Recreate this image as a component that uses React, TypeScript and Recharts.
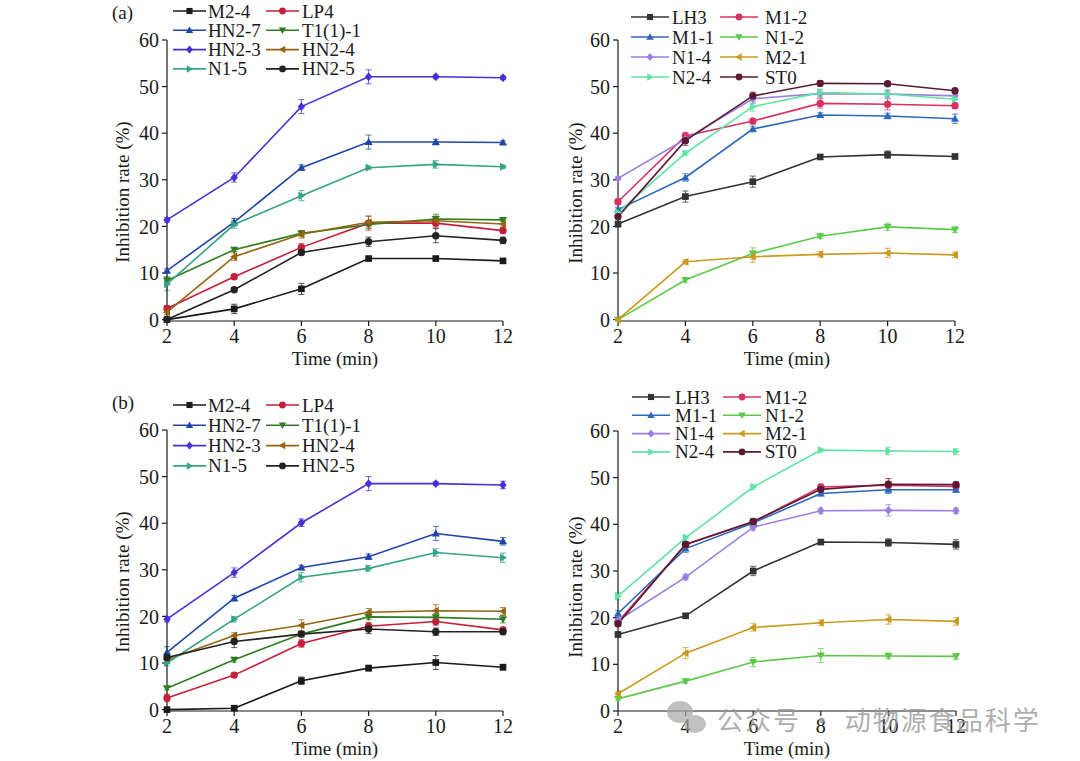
import React from "react";
import { LineChart, Line, XAxis, YAxis, ErrorBar } from "recharts";

// ── Data ────────────────────────────────────────────────────────────────────
const TIME = [2, 4, 6, 8, 10, 12];
const X_TICKS = [2, 4, 6, 8, 10, 12];
const Y_TICKS = [0, 10, 20, 30, 40, 50, 60];

// (a) left — means
const A_M24 = [0, 2.3, 6.6, 13.1, 13.1, 12.6];
const A_LP4 = [2.4, 9.2, 15.5, 20.7, 20.7, 19.1];
const A_HN27 = [10.5, 20.9, 32.6, 38.1, 38.1, 38.0];
const A_T111 = [8.4, 15.0, 18.5, 20.4, 21.6, 21.4];
const A_HN23 = [21.4, 30.5, 45.7, 52.1, 52.1, 51.9];
const A_HN24 = [1.6, 13.5, 18.3, 20.9, 21.2, 20.5];
const A_N15 = [7.6, 20.4, 26.6, 32.6, 33.3, 32.8];
const A_HN25 = [0, 6.4, 14.4, 16.7, 18.0, 17.0];
// (a) left — error bars (±)
const A_M24_E = [0.3, 1.0, 1.2, 0.4, 0.4, 0.4];
const A_LP4_E = [0.6, 0.5, 0.8, 1.5, 1.0, 0.6];
const A_HN27_E = [0.4, 0.8, 0.6, 1.5, 0.6, 0.4];
const A_T111_E = [0.8, 0.4, 0.6, 0.8, 1.0, 0.4];
const A_HN23_E = [0.5, 1.0, 1.5, 1.5, 0.4, 0.4];
const A_HN24_E = [0.5, 0.8, 0.8, 1.3, 1.0, 0.6];
const A_N15_E = [1.4, 0.8, 1.1, 0.4, 0.8, 0.4];
const A_HN25_E = [0.3, 0.5, 0.5, 1.0, 1.5, 0.7];

// (a) right — means
const A_LH3 = [20.5, 26.4, 29.6, 34.9, 35.4, 35.0];
const A_M12 = [25.3, 39.4, 42.6, 46.4, 46.2, 45.9];
const A_M11 = [23.6, 30.5, 40.9, 43.9, 43.7, 43.1];
const A_N12 = [0, 8.5, 14.2, 17.9, 19.9, 19.3];
const A_N14 = [30.3, 38.7, 47.4, 48.5, 48.4, 48.0];
const A_M21 = [0, 12.4, 13.5, 14.0, 14.3, 13.9];
const A_N24 = [23.0, 35.7, 45.7, 48.7, 48.4, 47.3];
const A_ST0 = [22.1, 38.4, 48.0, 50.7, 50.6, 49.1];
// (a) right — error bars (±)
const A_LH3_E = [0.6, 1.2, 1.2, 0.5, 0.8, 0.5];
const A_M12_E = [0.6, 0.8, 0.6, 1.0, 1.2, 0.6];
const A_M11_E = [0.5, 0.8, 0.6, 0.5, 0.6, 1.0];
const A_N12_E = [0.3, 0.5, 1.2, 0.5, 0.8, 0.6];
const A_N14_E = [0.4, 0.6, 1.0, 0.8, 0.8, 0.6];
const A_M21_E = [0.3, 0.5, 1.2, 0.6, 1.0, 0.6];
const A_N24_E = [0.6, 0.5, 1.0, 0.8, 1.0, 1.2];
const A_ST0_E = [0.5, 1.0, 0.8, 0.6, 0.5, 0.5];

// (b) left — means
const B_M24 = [0, 0.3, 6.2, 8.9, 10.1, 9.1];
const B_LP4 = [2.5, 7.4, 14.2, 17.9, 18.9, 17.1];
const B_HN27 = [12.3, 23.9, 30.5, 32.8, 37.8, 36.1];
const B_T111 = [4.6, 10.7, 16.2, 19.9, 19.8, 19.4];
const B_HN23 = [19.4, 29.4, 40.1, 48.5, 48.5, 48.2];
const B_HN24 = [10.7, 15.9, 18.1, 20.9, 21.2, 21.1];
const B_N15 = [10.0, 19.4, 28.4, 30.3, 33.7, 32.6];
const B_HN25 = [11.2, 14.6, 16.2, 17.3, 16.7, 16.7];
// (b) left — error bars (±)
const B_M24_E = [0.3, 0.3, 0.8, 0.6, 1.5, 0.6];
const B_LP4_E = [0.8, 0.5, 0.8, 0.8, 0.8, 0.6];
const B_HN27_E = [1.2, 0.6, 0.5, 0.6, 1.5, 0.8];
const B_T111_E = [0.4, 0.5, 0.5, 0.6, 0.8, 0.8];
const B_HN23_E = [0.6, 1.0, 0.8, 1.5, 0.4, 0.8];
const B_HN24_E = [0.6, 0.6, 1.2, 0.8, 1.3, 0.8];
const B_N15_E = [0.6, 0.6, 1.0, 0.6, 0.8, 1.0];
const B_HN25_E = [0.6, 1.3, 0.6, 1.0, 0.8, 0.6];

// (b) right — means
const B_LH3 = [16.4, 20.4, 30.0, 36.2, 36.1, 35.7];
const B_M12 = [19.1, 35.7, 40.5, 48.0, 48.4, 48.1];
const B_M11 = [20.9, 34.8, 40.3, 46.6, 47.4, 47.4];
const B_N12 = [2.6, 6.4, 10.5, 11.9, 11.8, 11.7];
const B_N14 = [19.4, 28.7, 39.4, 42.9, 43.0, 42.9];
const B_M21 = [3.7, 12.4, 17.9, 18.9, 19.6, 19.2];
const B_N24 = [24.6, 37.1, 48.0, 55.9, 55.7, 55.6];
const B_ST0 = [18.7, 35.7, 40.6, 47.5, 48.6, 48.5];
// (b) right — error bars (±)
const B_LH3_E = [0.5, 0.5, 1.0, 0.4, 0.8, 1.0];
const B_M12_E = [0.6, 0.6, 0.6, 0.6, 0.8, 0.6];
const B_M11_E = [0.6, 0.8, 0.6, 0.5, 0.8, 0.5];
const B_N12_E = [0.4, 0.5, 1.0, 1.5, 0.6, 0.6];
const B_N14_E = [0.6, 0.6, 0.8, 0.6, 1.2, 0.6];
const B_M21_E = [0.5, 1.2, 0.8, 0.6, 1.0, 0.8];
const B_N24_E = [0.8, 0.6, 0.6, 0.4, 0.8, 0.6];
const B_ST0_E = [0.6, 0.6, 0.6, 0.6, 1.2, 0.6];

// ── Styling ─────────────────────────────────────────────────────────────────
const FONT = "'Liberation Serif', 'Times New Roman', serif";
const INK = "#1a1a1a";

type Shape = "square" | "circle" | "up" | "down" | "diamond" | "left" | "right";

interface Series {
  key: string;
  name: string;
  shape: Shape;
  color: string;
  values: number[];
  errors: number[];
}

const LEFT_STYLE = [
  { key: "m24", name: "M2-4", shape: "square", color: "#1a1a1a" },
  { key: "lp4", name: "LP4", shape: "circle", color: "#c41e3a" },
  { key: "hn27", name: "HN2-7", shape: "up", color: "#1f45a6" },
  { key: "t111", name: "T1(1)-1", shape: "down", color: "#2f7d20" },
  { key: "hn23", name: "HN2-3", shape: "diamond", color: "#4b2fd6" },
  { key: "hn24", name: "HN2-4", shape: "left", color: "#946410" },
  { key: "n15", name: "N1-5", shape: "right", color: "#35a385" },
  { key: "hn25", name: "HN2-5", shape: "circle", color: "#222222" },
];

const RIGHT_STYLE = [
  { key: "lh3", name: "LH3", shape: "square", color: "#333333" },
  { key: "m12", name: "M1-2", shape: "circle", color: "#d9315f" },
  { key: "m11", name: "M1-1", shape: "up", color: "#2d68bb" },
  { key: "n12", name: "N1-2", shape: "down", color: "#5cc94a" },
  { key: "n14", name: "N1-4", shape: "diamond", color: "#9a7fe0" },
  { key: "m21", name: "M2-1", shape: "left", color: "#c99a1e" },
  { key: "n24", name: "N2-4", shape: "right", color: "#5fe3a3" },
  { key: "st0", name: "ST0", shape: "circle", color: "#5a1a32" },
];

function withValues(style: any[], values: number[][], errors: number[][]): Series[] {
  return style.map((s, i) => ({ ...s, values: values[i], errors: errors[i] }));
}

const SERIES_AL = withValues(
  LEFT_STYLE,
  [A_M24, A_LP4, A_HN27, A_T111, A_HN23, A_HN24, A_N15, A_HN25],
  [A_M24_E, A_LP4_E, A_HN27_E, A_T111_E, A_HN23_E, A_HN24_E, A_N15_E, A_HN25_E]
);
const SERIES_AR = withValues(
  RIGHT_STYLE,
  [A_LH3, A_M12, A_M11, A_N12, A_N14, A_M21, A_N24, A_ST0],
  [A_LH3_E, A_M12_E, A_M11_E, A_N12_E, A_N14_E, A_M21_E, A_N24_E, A_ST0_E]
);
const SERIES_BL = withValues(
  LEFT_STYLE,
  [B_M24, B_LP4, B_HN27, B_T111, B_HN23, B_HN24, B_N15, B_HN25],
  [B_M24_E, B_LP4_E, B_HN27_E, B_T111_E, B_HN23_E, B_HN24_E, B_N15_E, B_HN25_E]
);
const SERIES_BR = withValues(
  RIGHT_STYLE,
  [B_LH3, B_M12, B_M11, B_N12, B_N14, B_M21, B_N24, B_ST0],
  [B_LH3_E, B_M12_E, B_M11_E, B_N12_E, B_N14_E, B_M21_E, B_N24_E, B_ST0_E]
);

function toRows(series: Series[]) {
  return TIME.map((t, i) => {
    const row: Record<string, number> = { t };
    series.forEach((s) => {
      row[s.key] = s.values[i];
      row[`${s.key}_e`] = s.errors[i];
    });
    return row;
  });
}

// ── Markers ─────────────────────────────────────────────────────────────────
function Marker({ cx, cy, shape, color, r = 3.7 }: { cx: number; cy: number; shape: Shape; color: string; r?: number }) {
  if (cx == null || cy == null || isNaN(cx) || isNaN(cy)) return null;
  switch (shape) {
    case "square":
      return <rect x={cx - r * 0.9} y={cy - r * 0.9} width={r * 1.8} height={r * 1.8} fill={color} />;
    case "circle":
      return <circle cx={cx} cy={cy} r={r} fill={color} />;
    case "up":
      return <polygon points={`${cx},${cy - r * 1.1} ${cx - r * 1.1},${cy + r * 0.8} ${cx + r * 1.1},${cy + r * 0.8}`} fill={color} />;
    case "down":
      return <polygon points={`${cx},${cy + r * 1.1} ${cx - r * 1.1},${cy - r * 0.8} ${cx + r * 1.1},${cy - r * 0.8}`} fill={color} />;
    case "diamond":
      return <polygon points={`${cx},${cy - r * 1.2} ${cx + r},${cy} ${cx},${cy + r * 1.2} ${cx - r},${cy}`} fill={color} />;
    case "left":
      return <polygon points={`${cx - r * 1.1},${cy} ${cx + r * 0.8},${cy - r * 1.1} ${cx + r * 0.8},${cy + r * 1.1}`} fill={color} />;
    case "right":
      return <polygon points={`${cx + r * 1.1},${cy} ${cx - r * 0.8},${cy - r * 1.1} ${cx - r * 0.8},${cy + r * 1.1}`} fill={color} />;
  }
  return null;
}

// ── Panel ───────────────────────────────────────────────────────────────────
interface LegendLayout {
  x1: number;
  t1: number;
  x2: number;
  t2: number;
  len: number;
  y0: number;
  dy: number;
}

interface PanelProps {
  left: number;
  top: number;
  width: number;
  height: number;
  margin: { top: number; right: number; bottom: number; left: number };
  yWidth: number;
  series: Series[];
  legend: LegendLayout;
  yLabel: { x: number; y: number };
  xLabel: { x: number; y: number };
}

// two-column legend drawn over the chart (recharts' Legend blanks the plot here)
function SeriesKey({ series, legend, width }: { series: Series[]; legend: LegendLayout; width: number }) {
  return (
    <svg
      width={width}
      height={legend.y0 + legend.dy * 4}
      style={{ position: "absolute", left: 0, top: 0, overflow: "visible", pointerEvents: "none" }}
    >
      {series.map((s, i) => {
        const col = i % 2;
        const row = Math.floor(i / 2);
        const lx = col === 0 ? legend.x1 : legend.x2;
        const tx = col === 0 ? legend.t1 : legend.t2;
        const y = legend.y0 + row * legend.dy;
        return (
          <g key={s.key}>
            <line x1={lx} x2={lx + legend.len} y1={y} y2={y} stroke={s.color} strokeWidth={1.6} />
            <Marker cx={lx + legend.len / 2} cy={y} shape={s.shape} color={s.color} r={3.4} />
            <text x={tx} y={y} dominantBaseline="central" fontSize={19} fontFamily={FONT} fill={INK}>
              {s.name}
            </text>
          </g>
        );
      })}
    </svg>
  );
}

function Panel({ left, top, width, height, margin, yWidth, series, legend, yLabel, xLabel }: PanelProps) {
  const data = toRows(series);
  const tick = { fontSize: 20, fill: INK, fontFamily: FONT };

  return (
    <div style={{ position: "absolute", left, top, width, height }}>
      <LineChart width={width} height={height} data={data} margin={margin}>
        <XAxis
          dataKey="t"
          type="number"
          domain={[2, 12]}
          ticks={X_TICKS}
          tick={tick}
          tickSize={5}
          tickMargin={3}
          stroke={INK}
          strokeWidth={1.2}
          height={40}
          label={() => (
            <text x={xLabel.x} y={xLabel.y} textAnchor="middle" dominantBaseline="central" fontSize={19} fontFamily={FONT} fill={INK}>
              Time (min)
            </text>
          )}
        />
        <YAxis
          type="number"
          domain={[0, 60]}
          ticks={Y_TICKS}
          tick={tick}
          tickSize={5}
          tickMargin={3}
          stroke={INK}
          strokeWidth={1.2}
          width={yWidth}
          label={() => (
            <text
              x={yLabel.x}
              y={yLabel.y}
              transform={`rotate(-90 ${yLabel.x} ${yLabel.y})`}
              textAnchor="middle"
              dominantBaseline="central"
              fontSize={19}
              fontFamily={FONT}
              fill={INK}
            >
              Inhibition rate (%)
            </text>
          )}
        />
        {series.map((s) => (
          <Line
            key={s.key}
            dataKey={s.key}
            name={s.name}
            type="linear"
            stroke={s.color}
            strokeWidth={1.6}
            isAnimationActive={false}
            dot={(p: any) => <Marker key={`${s.key}-${p.index}`} cx={p.cx} cy={p.cy} shape={s.shape} color={s.color} />}
            activeDot={false}
          >
            <ErrorBar dataKey={`${s.key}_e`} direction="y" width={3} stroke={s.color} strokeWidth={1} strokeOpacity={0.75} />
          </Line>
        ))}
      </LineChart>
      <SeriesKey series={series} legend={legend} width={width} />
    </div>
  );
}

const tagStyle: React.CSSProperties = {
  position: "absolute",
  fontFamily: FONT,
  fontSize: 19,
  color: INK,
  lineHeight: "20px",
};

export default function App() {
  return (
    <div style={{ position: "absolute", left: 0, top: 0, width: 1080, height: 761, background: "#fff", overflow: "hidden" }}>
      <span style={{ ...tagStyle, left: 112, top: 3 }}>(a)</span>
      <span style={{ ...tagStyle, left: 112, top: 393 }}>(b)</span>

      <Panel
        left={100}
        top={0}
        width={420}
        height={380}
        margin={{ top: 40, right: 17, bottom: 19, left: 0 }}
        yWidth={67}
        series={SERIES_AL}
        legend={{ x1: 73, t1: 108, x2: 166, t2: 202, len: 33, y0: 11, dy: 19.3 }}
        yLabel={{ x: 22, y: 192 }}
        xLabel={{ x: 235, y: 358 }}
      />
      <Panel
        left={560}
        top={0}
        width={420}
        height={380}
        margin={{ top: 40, right: 25, bottom: 19, left: 0 }}
        yWidth={58}
        series={SERIES_AR}
        legend={{ x1: 71, t1: 112, x2: 160, t2: 205, len: 38, y0: 17, dy: 20 }}
        yLabel={{ x: 15, y: 193 }}
        xLabel={{ x: 227, y: 358 }}
      />
      <Panel
        left={100}
        top={390}
        width={420}
        height={371}
        margin={{ top: 40, right: 17, bottom: 10, left: 0 }}
        yWidth={67}
        series={SERIES_BL}
        legend={{ x1: 73, t1: 108, x2: 166, t2: 202, len: 33, y0: 15, dy: 20.3 }}
        yLabel={{ x: 22, y: 192 }}
        xLabel={{ x: 235, y: 358 }}
      />
      <Panel
        left={560}
        top={390}
        width={420}
        height={371}
        margin={{ top: 41, right: 24, bottom: 10, left: 0 }}
        yWidth={58}
        series={SERIES_BR}
        legend={{ x1: 72, t1: 115, x2: 163, t2: 205, len: 38, y0: 7, dy: 18.3 }}
        yLabel={{ x: 15, y: 197 }}
        xLabel={{ x: 227, y: 358 }}
      />

      {/* watermark */}
      <svg width={1080} height={761} style={{ position: "absolute", left: 0, top: 0, pointerEvents: "none" }}>
        <g fill="#a8a8a8" opacity={0.7}>
          <ellipse cx={680} cy={712} rx={13} ry={11} />
          <ellipse cx={695} cy={724} rx={11} ry={9} />
        </g>
        <text
          x={717}
          y={718}
          dominantBaseline="central"
          fontSize={26}
          letterSpacing={2}
          fontFamily="'Noto Sans CJK SC', sans-serif"
          fill="#9a9a9a"
          opacity={0.8}
        >
          公众号 · 动物源食品科学
        </text>
      </svg>
    </div>
  );
}
